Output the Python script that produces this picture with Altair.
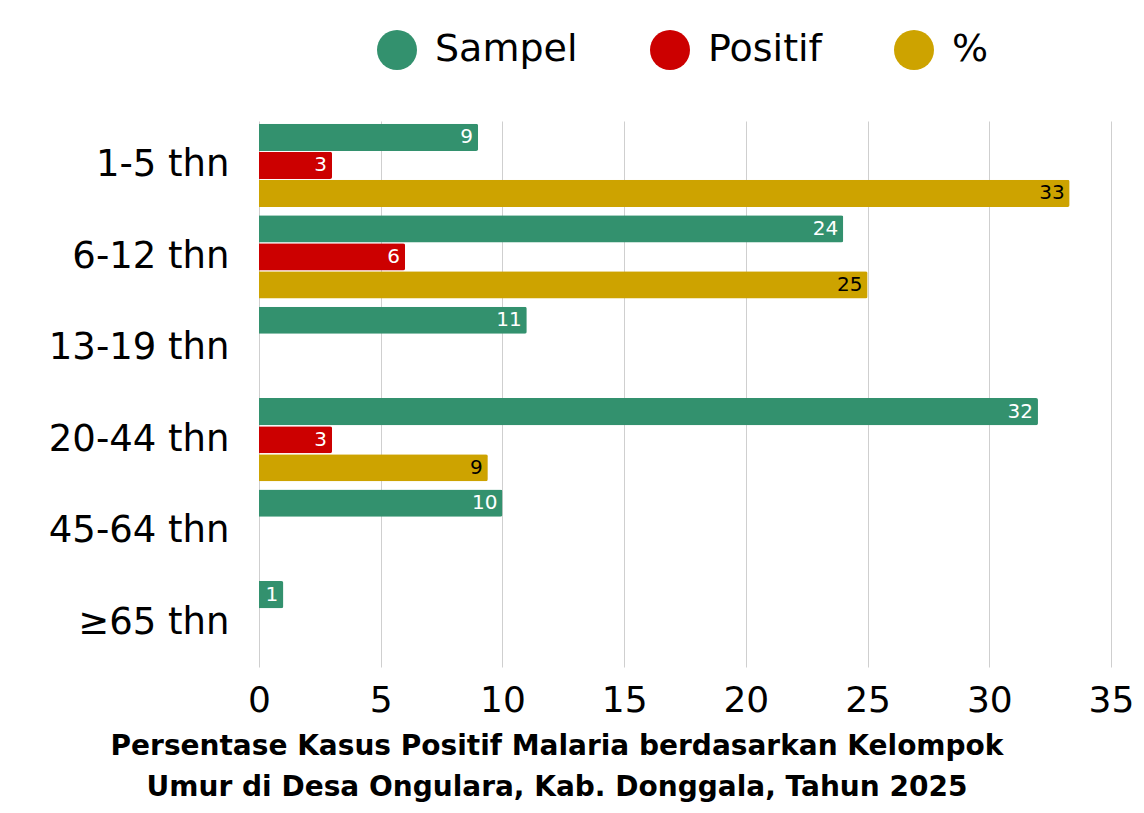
import altair as alt
import pandas as pd

categories = ["1-5 thn", "6-12 thn", "13-19 thn", "20-44 thn", "45-64 thn", "≥65 thn"]
series = ["Sampel", "Positif", "%"]
sampel = [9, 24, 11, 32, 10, 1]
positif = [3, 6, None, 3, None, None]
persen = [33.3, 25.0, None, 9.4, None, None]
colors = ["#33916E", "#CC0000", "#CDA300"]
x_ticks = [0, 5, 10, 15, 20, 25, 30, 35]

rows = []
for i, c in enumerate(categories):
    for s, vals in zip(series, [sampel, positif, persen]):
        if vals[i] is not None:
            rows.append({"Kelompok": c, "Seri": s, "Nilai": vals[i]})
df = pd.DataFrame(rows)

FONT = "DejaVu Sans"

y_enc = alt.Y("Kelompok:N", sort=categories, title=None,
              scale=alt.Scale(domain=categories, paddingInner=0.09, paddingOuter=0.03),
              axis=alt.Axis(labelFontSize=37, labelFont=FONT, labelColor="black",
                            labelPadding=30, labelLimit=0, ticks=False,
                            domain=False, grid=False))
yoff = alt.YOffset("Seri:N", sort=series,
                   scale=alt.Scale(domain=series, paddingInner=0.03))
x_enc = alt.X("Nilai:Q", title=None,
              scale=alt.Scale(domain=[0, 35], nice=False),
              axis=alt.Axis(values=x_ticks, labelFontSize=36, labelFont=FONT,
                            labelColor="black", labelPadding=16, ticks=False,
                            labelFlush=False, labelBound=False, labelOverlap=False,
                            domain=False, grid=True, gridColor="#cfcfcf",
                            gridWidth=1))

bars = alt.Chart(df).mark_bar(cornerRadiusEnd=2).encode(
    y=y_enc, yOffset=yoff, x=x_enc,
    color=alt.Color("Seri:N", sort=series,
                    scale=alt.Scale(domain=series, range=colors),
                    legend=alt.Legend(title=None, orient="none", legendX=118,
                                      legendY=-91, direction="horizontal",
                                      symbolType="circle", symbolSize=1600,
                                      symbolStrokeWidth=0, symbolOpacity=1,
                                      labelFontSize=38, labelFont=FONT,
                                      labelColor="black", labelOffset=18,
                                      columnPadding=72, padding=0)),
)

labels = alt.Chart(df).mark_text(align="right", baseline="middle", dx=-5,
                                 fontSize=20, font=FONT).encode(
    y=y_enc, yOffset=yoff, x=x_enc,
    text=alt.Text("Nilai:Q", format=".0f"),
    color=alt.condition(alt.datum.Seri == "%", alt.value("black"), alt.value("white")),
)

chart = alt.layer(bars, labels).properties(
    width=852, height=546,
    background="white",
    autosize=alt.AutoSizeParams(type="none"),
    padding={"left": 251, "top": 113, "right": 25, "bottom": 137},
    title=alt.TitleParams(
        text=["Persentase Kasus Positif Malaria berdasarkan Kelompok",
              "Umur di Desa Ongulara, Kab. Donggala, Tahun 2025"],
        orient="bottom", anchor="middle", frame="group", dx=-128,
        fontSize=28, fontWeight="bold", font=FONT, color="black",
        lineHeight=41, offset=15),
).configure_view(stroke=None)

chart.save("out.html", embed_options={"renderer": "svg", "actions": False})
